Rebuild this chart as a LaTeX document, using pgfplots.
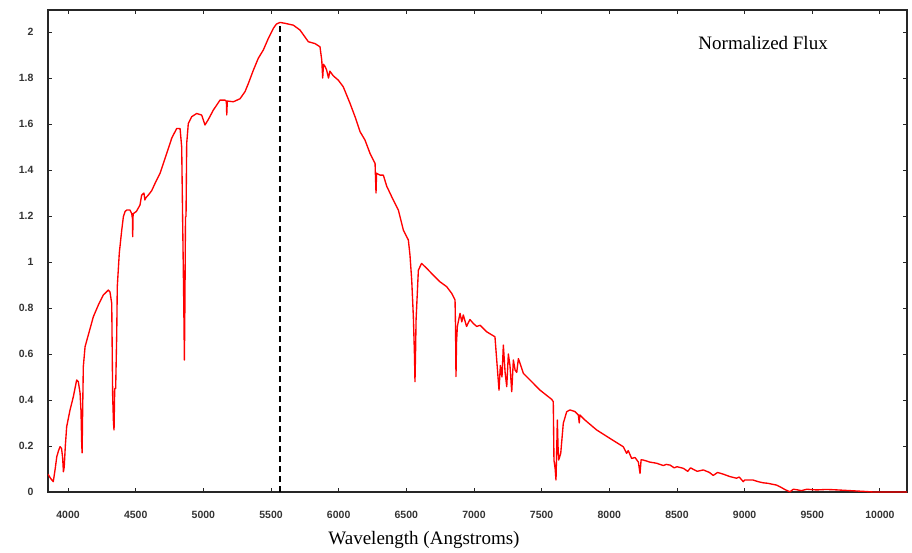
\documentclass[border=0pt]{standalone}
\usepackage{fontspec}
\setmainfont{Liberation Serif}
\newfontfamily\tickfamily{Liberation Sans}
\usepackage{pgfplots}
\pgfplotsset{compat=1.18}
\usepackage{pgfplotstable}
\pgfplotstableread{
x y
3852 0.078
3870 0.06
3891 0.045
3905 0.10
3917 0.154
3930 0.18
3941 0.197
3952 0.19
3960 0.15
3966 0.088
3972 0.11
3980 0.20
3990 0.284
4015 0.357
4039 0.414
4064 0.487
4076 0.48
4089 0.43
4096 0.35
4101 0.213
4104 0.17
4108 0.35
4113 0.545
4126 0.632
4150 0.683
4187 0.762
4224 0.813
4261 0.857
4298 0.878
4310 0.87
4323 0.82
4330 0.414
4336 0.30
4340 0.27
4345 0.45
4352 0.45
4360 0.69
4364 0.893
4379 1.04
4397 1.139
4409 1.197
4422 1.22
4434 1.226
4458 1.226
4470 1.212
4476 1.19
4478 1.11
4481 1.21
4505 1.22
4532 1.248
4544 1.291
4561 1.30
4568 1.27
4576 1.28
4593 1.291
4618 1.31
4643 1.342
4680 1.386
4729 1.472
4766 1.538
4803 1.581
4828 1.58
4840 1.50
4848 1.139
4855 0.835
4860 0.574
4864 0.835
4868 1.197
4872 1.197
4877 1.516
4889 1.603
4914 1.632
4951 1.646
4988 1.639
5012 1.596
5037 1.62
5074 1.661
5123 1.704
5160 1.704
5170 1.70
5173 1.64
5177 1.70
5222 1.697
5271 1.71
5308 1.741
5333 1.777
5370 1.835
5406 1.886
5443 1.922
5480 1.972
5517 2.016
5540 2.035
5567 2.042
5604 2.038
5665 2.03
5714 2.009
5776 1.958
5825 1.95
5862 1.936
5875 1.878
5882 1.80
5888 1.86
5900 1.85
5911 1.835
5925 1.80
5935 1.83
5960 1.81
5997 1.791
6034 1.762
6084 1.69
6121 1.632
6158 1.567
6195 1.53
6232 1.472
6269 1.429
6276 1.30
6280 1.386
6306 1.378
6330 1.378
6355 1.33
6392 1.284
6441 1.226
6478 1.139
6503 1.11
6515 1.096
6527 1.03
6540 0.92
6552 0.762
6560 0.60
6564 0.48
6568 0.60
6572 0.748
6589 0.965
6613 0.994
6650 0.973
6699 0.943
6749 0.914
6798 0.893
6835 0.864
6860 0.835
6864 0.70
6867 0.502
6871 0.65
6877 0.72
6897 0.777
6910 0.74
6921 0.77
6945 0.72
6970 0.75
6995 0.733
7020 0.72
7045 0.725
7093 0.697
7155 0.675
7168 0.574
7185 0.443
7195 0.55
7207 0.50
7217 0.639
7230 0.52
7242 0.458
7254 0.60
7266 0.55
7279 0.436
7291 0.574
7304 0.53
7316 0.52
7328 0.58
7340 0.56
7365 0.516
7414 0.487
7488 0.443
7574 0.403
7586 0.393
7591 0.139
7600 0.10
7606 0.052
7612 0.20
7616 0.313
7621 0.20
7626 0.139
7641 0.168
7660 0.299
7685 0.349
7709 0.357
7746 0.35
7771 0.335
7778 0.30
7782 0.335
7820 0.313
7906 0.27
8005 0.233
8103 0.197
8128 0.168
8140 0.18
8165 0.146
8190 0.15
8215 0.13
8227 0.081
8235 0.14
8252 0.139
8300 0.13
8350 0.125
8400 0.115
8420 0.12
8449 0.117
8480 0.105
8500 0.11
8547 0.103
8580 0.09
8600 0.105
8650 0.09
8695 0.096
8740 0.085
8768 0.072
8800 0.085
8840 0.078
8892 0.067
8940 0.06
8960 0.065
8990 0.045
9000 0.052
9063 0.052
9100 0.045
9137 0.04
9170 0.038
9236 0.03
9261 0.023
9300 0.01
9335 0.001
9360 0.012
9384 0.01
9420 0.006
9460 0.012
9532 0.009
9600 0.011
9655 0.01
9778 0.006
9901 0.002
9950 0.0
10200 0.0
}\spectrum
\begin{document}
\begin{tikzpicture}
\path[use as bounding box] (-48pt,-60pt) rectangle (864pt,492pt);
\begin{axis}[
  at={(0pt,0pt)}, anchor=south west,
  scale only axis, width=859pt, height=482pt,
  xmin=3852, xmax=10200, ymin=0, ymax=2.096,
  xtick={4000,4500,5000,5500,6000,6500,7000,7500,8000,8500,9000,9500,10000},
  ytick={0,0.2,0.4,0.6,0.8,1,1.2,1.4,1.6,1.8,2},
  scaled x ticks=false, scaled y ticks=false,
  /pgf/number format/assume math mode=true,
  x tick label style={/pgf/number format/1000 sep={}},
  tick align=inside, major tick length=4pt,
  axis line style={black!85, line width=1.2pt},
  tick style={black!85, line width=0.9pt},
  xticklabel style={font=\tickfamily\fontsize{10.5}{12}\selectfont\bfseries, text=black!80, yshift=-16pt},
  yticklabel style={font=\tickfamily\fontsize{10.5}{12}\selectfont\bfseries, text=black!80, xshift=-11pt},
  xlabel={Wavelength (Angstroms)},
  xlabel style={at={(rel axis cs:0.4377,0)}, anchor=center, yshift=-48pt, font=\fontsize{19}{22}\selectfont},
]
\addplot[red, line width=1.35pt, line join=round] table[x=x,y=y] {\spectrum};
\addplot[black, line width=2pt, dash pattern=on 6pt off 4pt] coordinates {(5563,0) (5563,2.042)};
\node[anchor=west, font=\fontsize{19}{22}\selectfont] at (axis cs:8633,1.952) {Normalized Flux};
\end{axis}
\end{tikzpicture}
\end{document}
